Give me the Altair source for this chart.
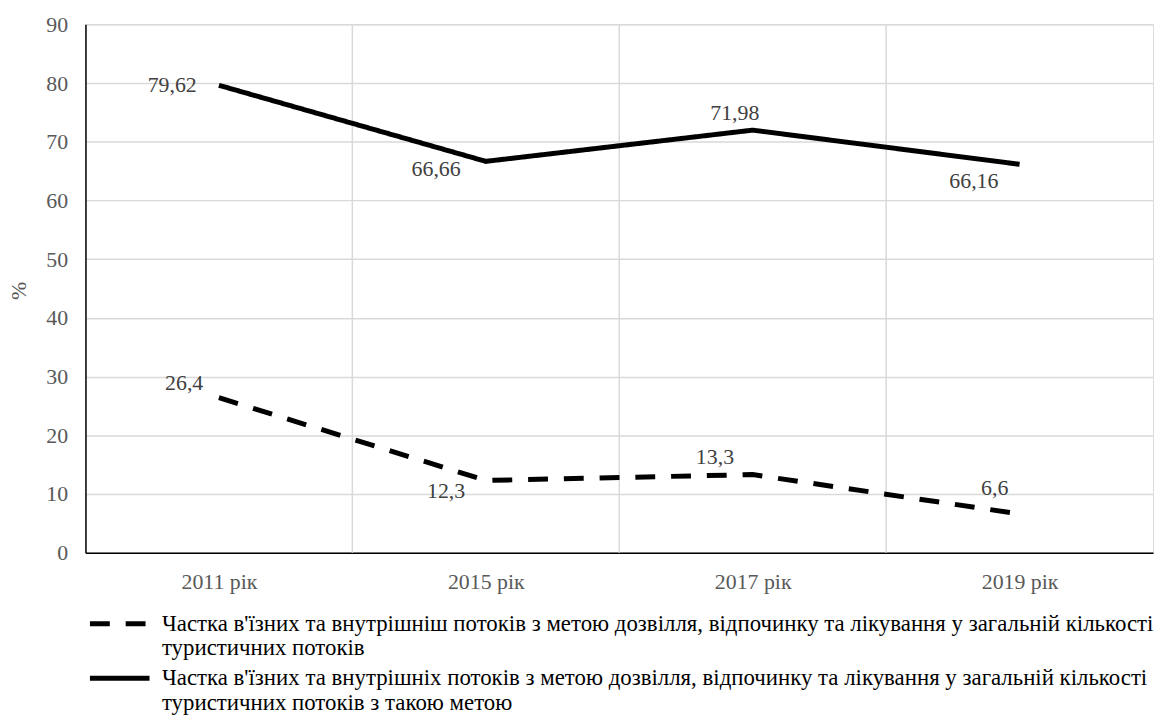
import json
import altair as alt
import pandas as pd

FONT = "'Times New Roman', 'Liberation Serif', serif"

years = ["2011 рік", "2015 рік", "2017 рік", "2019 рік"]
share_total = [26.4, 12.3, 13.3, 6.6]
share_purpose = [79.62, 66.66, 71.98, 66.16]
series_names = [
    "Частка в'їзних та внутрішніш потоків з метою дозвілля, відпочинку та лікування у загальній кількості туристичних потоків",
    "Частка в'їзних та внутрішніх потоків з метою дозвілля, відпочинку та лікування у загальній кількості туристичних потоків з такою метою",
]

rows = []
for i, yr in enumerate(years):
    rows.append(dict(idx=i, year=yr, series=series_names[0], value=share_total[i]))
    rows.append(dict(idx=i, year=yr, series=series_names[1], value=share_purpose[i]))
df = pd.DataFrame(rows)
df["label"] = df["value"].map(lambda v: f"{v:g}".replace(".", ","))

boundaries = pd.DataFrame({"b": [i + 0.5 for i in range(len(years) - 1)]})

W, H = 1075, 532

xscale = alt.Scale(domain=[-0.5, len(years) - 0.5], nice=False, zero=False)
yscale = alt.Scale(domain=[0, 90], nice=False)

x_axis = alt.Axis(
    values=list(range(len(years))),
    labelExpr=json.dumps(years, ensure_ascii=False) + "[datum.value]",
    title=None,
    grid=False,
    ticks=False,
    domainColor="black",
    domainWidth=1.5,
    labelFont=FONT,
    labelFontSize=22,
    labelColor="#595959",
    labelPadding=19,
)
y_axis = alt.Axis(
    values=list(range(0, 91, 10)),
    title="%",
    titleFont=FONT,
    titleFontSize=22,
    titleFontWeight="normal",
    titleColor="#595959",
    titleX=-55,
    titleY=268,
    grid=True,
    gridColor="#d9d9d9",
    gridWidth=1.5,
    ticks=False,
    domainColor="black",
    domainWidth=1.5,
    labelFont=FONT,
    labelFontSize=22,
    labelColor="#595959",
    labelPadding=18,
)

vgrid = alt.Chart(boundaries).mark_rule(color="#d9d9d9", strokeWidth=1.5).encode(
    x=alt.X("b:Q", scale=xscale, axis=x_axis)
)

lines = alt.Chart(df).mark_line(color="black", strokeWidth=5, strokeCap="butt").encode(
    x=alt.X("idx:Q", scale=xscale, axis=x_axis),
    y=alt.Y("value:Q", scale=yscale, axis=y_axis),
    strokeDash=alt.StrokeDash(
        "series:N",
        scale=alt.Scale(domain=series_names, range=[[20, 16], [1, 0]]),
        legend=alt.Legend(
            title=None,
            orient="none",
            legendX=17,
            legendY=586,
            direction="vertical",
            symbolType="M-2,0H2",
            symbolSize=900,
            symbolStrokeWidth=5,
            symbolStrokeColor="black",
            labelFont=FONT,
            labelFontSize=23,
            labelColor="black",
            labelLimit=1200,
            labelOffset=25,
            rowPadding=0,
            labelExpr="[slice(datum.label, 0, indexof(datum.label, 'туристичних') - 1), slice(datum.label, indexof(datum.label, 'туристичних'))]",
        ),
    ),
    detail="series:N",
)

# label placement (dx, dy) around each point, as in the original
offsets = {
    (0, 0): (-35, -15), (0, 1): (-40, 11), (0, 2): (-38, -18), (0, 3): (-25, -26),
    (1, 0): (-47, 0), (1, 1): (-50, 8), (1, 2): (-18, -17), (1, 3): (-46, 17),
}
labels = []
for (s, i), (dx, dy) in offsets.items():
    labels.append(
        alt.Chart(df)
        .transform_filter((alt.datum.series == series_names[s]) & (alt.datum.idx == i))
        .mark_text(font=FONT, fontSize=22, color="#404040", dx=dx, dy=dy, baseline="middle")
        .encode(x=alt.X("idx:Q", scale=xscale), y=alt.Y("value:Q", scale=yscale), text="label:N")
    )

chart = (
    alt.layer(vgrid, lines, *labels)
    .properties(
        width=W,
        height=H,
        autosize=alt.AutoSizeParams(type="none"),
        padding={"left": 78, "top": 14, "right": 4, "bottom": 162},
    )
    .configure_view(stroke=None)
    .configure(style={"guide-label": {"lineHeight": 25}})
)

chart.save("out.html", embed_options={"renderer": "svg", "actions": False})
